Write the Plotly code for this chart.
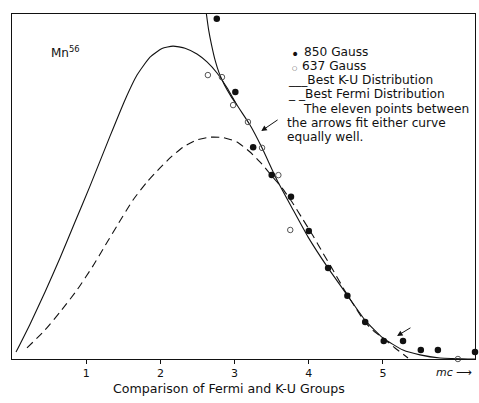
import plotly.graph_objects as go

# Energy axis in units of mc^2 (x) and relative intensity (y, arbitrary units)

# Best K-U distribution (solid, peaked)
ku_x = [0.054, 0.243, 0.445, 0.647, 0.849, 1.051, 1.321, 1.523, 1.685, 1.860, 2.022,
        2.170, 2.332, 2.493, 2.628, 2.763, 2.898, 3.032, 3.208, 3.369, 3.571, 3.774,
        3.989, 4.259, 4.515, 4.757, 5.000, 5.270, 5.499, 5.768, 6.240]
ku_y = [2.0, 10.1, 19.4, 29.3, 39.7, 50.1, 64.6, 75.1, 82.3, 87.5, 90.0,
        90.7, 90.1, 88.4, 86.1, 82.9, 78.6, 73.6, 67.8, 61.2, 51.9, 43.8,
        35.4, 26.4, 18.6, 11.3, 6.1, 2.6, 1.2, 0.3, 0.0]

# Steep branch rising off the top of the frame
steep_x = [2.62, 2.65, 2.69, 2.74, 2.79, 2.86, 2.95, 3.03]
steep_y = [100.0, 95.4, 91.0, 86.4, 83.0, 79.6, 76.2, 73.6]

# Best Fermi distribution (dashed)
fermi_x = [0.202, 0.445, 0.647, 0.876, 1.092, 1.253, 1.415, 1.631, 1.819, 1.995,
           2.156, 2.305, 2.493, 2.668, 2.844, 3.032, 3.208, 3.369, 3.504, 3.639,
           3.774, 3.908, 4.057, 4.191, 4.326, 4.488, 4.623, 4.757, 4.892, 5.000,
           5.162, 5.337]
fermi_y = [3.2, 8.4, 13.6, 20.0, 27.0, 32.8, 38.6, 46.1, 51.3, 55.4,
           58.8, 61.4, 63.5, 64.3, 64.2, 62.9, 60.0, 56.5, 53.0, 49.6,
           45.5, 40.9, 35.7, 30.7, 25.8, 19.7, 15.1, 10.7, 7.8, 6.1,
           3.2, 0.3]

# 850 Gauss data (filled dots)
g850_x = [2.76, 3.01, 3.25, 3.50, 3.76, 4.00, 4.26, 4.52, 4.76, 5.01, 5.27, 5.51, 5.74, 6.24]
g850_y = [98.6, 77.4, 61.4, 53.3, 47.0, 37.1, 26.4, 18.3, 10.7, 5.2, 5.2, 2.6, 2.6, 2.0]

# 637 Gauss data (open circles)
g637_x = [2.64, 2.83, 2.98, 3.18, 3.37, 3.59, 3.75, 6.01]
g637_y = [82.3, 81.7, 73.6, 68.7, 61.2, 53.3, 37.4, 0.0]

x_ticks = [1, 2, 3, 4, 5]
x_tick_text = ["1", "2", "3", "4", "5"]

legend_lines = [
    "850 Gauss",
    "637 Gauss",
    "___Best K-U Distribution",
    "_ _Best Fermi Distribution",
    "The eleven points between",
    "the arrows fit either curve",
    "equally well.",
]
title_text = "Comparison of Fermi and K-U Groups"

FONT = "DejaVu Sans"
INK = "#111111"

fig = go.Figure()

curve_line = dict(color=INK, width=1.1, shape="spline", smoothing=0.5)
fig.add_trace(go.Scatter(x=ku_x, y=ku_y, mode="lines", line=curve_line))
fig.add_trace(go.Scatter(x=steep_x, y=steep_y, mode="lines", line=curve_line))
fig.add_trace(go.Scatter(x=fermi_x, y=fermi_y, mode="lines",
                         line=dict(curve_line, dash="8px,5px")))
fig.add_trace(go.Scatter(x=g850_x, y=g850_y, mode="markers", cliponaxis=False,
                         marker=dict(symbol="circle", size=6.5, color=INK)))
fig.add_trace(go.Scatter(x=g637_x, y=g637_y, mode="markers", cliponaxis=False,
                         marker=dict(symbol="circle-open", size=5.5, color="#555555",
                                     line=dict(width=1))))

ann = []
# legend block drawn as lettering
ann.append(dict(x=3.73, y=88.5, text="•", font=dict(size=14, color=INK)))
ann.append(dict(x=3.745, y=84.6, text="○", font=dict(size=6, color="#444")))
legend_pos = [(3.91, 89.13), (3.88, 84.99), (3.69, 80.84), (3.69, 76.70),
              (3.90, 72.55), (3.68, 68.41), (3.68, 64.26)]
for (lx, ly), t in zip(legend_pos, legend_lines):
    ann.append(dict(x=lx, y=ly, text=t, font=dict(size=12.2, color=INK)))
for a in ann:
    a.update(xref="x", yref="y", xanchor="left", yanchor="middle", showarrow=False,
             font=dict(family=FONT, **a["font"]))

# arrows bracketing the eleven points
for (tx, ty, hx, hy) in [(3.60, 69.6, 3.36, 66.1), (5.39, 9.3, 5.19, 6.7)]:
    ann.append(dict(x=hx, y=hy, ax=tx, ay=ty, xref="x", yref="y", axref="x", ayref="y",
                    text="", showarrow=True, arrowhead=2, arrowsize=1.1,
                    arrowwidth=1, arrowcolor=INK))

ann.append(dict(x=0.50, y=89.0, xref="x", yref="y", xanchor="left", yanchor="middle",
                text="Mn<sup>56</sup>", showarrow=False,
                font=dict(family=FONT, size=12, color=INK)))
ann.append(dict(x=0.911, y=-0.038, xref="paper", yref="paper", xanchor="left",
                yanchor="middle", text="<i>mc</i> ⟶", showarrow=False,
                font=dict(family=FONT, size=11, color=INK)))
ann.append(dict(x=0.469, y=-0.086, xref="paper", yref="paper", xanchor="center",
                yanchor="middle", text=title_text, showarrow=False,
                font=dict(family=FONT, size=12.6, color=INK)))

fig.update_layout(
    width=479, height=403,
    margin=dict(l=12, r=4, t=14, b=44),
    paper_bgcolor="white", plot_bgcolor="white",
    showlegend=False,
    annotations=ann,
    xaxis=dict(range=[0, 6.24], tickmode="array", tickvals=x_ticks, ticktext=x_tick_text,
               ticks="outside", ticklen=4, tickwidth=1, tickcolor=INK,
               showline=True, linecolor=INK, linewidth=1.2, mirror=True,
               showgrid=False, zeroline=False,
               tickfont=dict(family=FONT, size=11, color=INK)),
    yaxis=dict(range=[0, 100], showticklabels=False, ticks="",
               showline=True, linecolor=INK, linewidth=1.2, mirror=True,
               showgrid=False, zeroline=False),
)

fig.write_html("out.html")
